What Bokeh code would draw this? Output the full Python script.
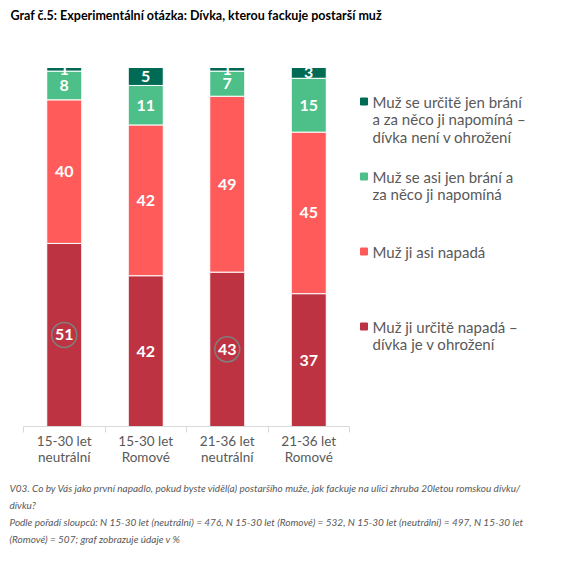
from bokeh.plotting import figure
from bokeh.models import Range1d, FixedTicker, Title, ColumnDataSource
from bokeh.core.properties import value
from bokeh.embed import file_html
from bokeh.resources import INLINE

# ---------------- data ----------------
categories = ["15-30 let\nneutrální", "15-30 let\nRomové", "21-36 let\nneutrální", "21-36 let\nRomové"]
urcite_napada = [51, 42, 43, 37]   # Muž ji určitě napadá – dívka je v ohrožení
asi_napada = [40, 42, 49, 45]      # Muž ji asi napadá
asi_brani = [8, 11, 7, 15]         # Muž se asi jen brání a za něco ji napomíná
urcite_brani = [1, 5, 1, 3]        # Muž se určitě jen brání ... – dívka není v ohrožení
circled = [True, False, True, False]

series_keys = ["urcite_napada", "asi_napada", "asi_brani", "urcite_brani"]
series_colors = ["#BE3341", "#FF5B5B", "#4DBF88", "#006B55"]
legend_labels = [
    "Muž se určitě jen brání\na za něco ji napomíná –\ndívka není v ohrožení",
    "Muž se asi jen brání a\nza něco ji napomíná",
    "Muž ji asi napadá",
    "Muž ji určitě napadá –\ndívka je v ohrožení",
]
legend_colors = ["#006B55", "#4DBF88", "#FF5B5B", "#BE3341"]

title_text = "Graf č.5: Experimentální otázka: Dívka, kterou fackuje postarší muž"
notes = [
    "V03. Co by Vás jako první napadlo, pokud byste viděl(a) postaršího muže, jak fackuje na ulici zhruba 20letou romskou dívku/\ndívku?",
    "Podle pořadí sloupců: N 15-30 let (neutrální) = 476, N 15-30 let (Romové) = 532, N 15-30 let (neutrální) = 497, N 15-30 let\n(Romové) = 507; graf zobrazuje údaje v %",
]

# ---------------- layout helpers (px -> data) ----------------
W, H = 567, 554
AXIS_L, FRAME_B = 23, 426
CAT_PX = 81.5
PX_PER_PCT = 3.59

def px_x(px):
    return (px - AXIS_L) / CAT_PX

def px_y(py):
    return (FRAME_B - py) / PX_PER_PCT

FONT = "Lato"

p = figure(width=W, height=H, output_backend="svg", toolbar_location=None,
           y_axis_type=None, min_border_left=0, min_border_right=0,
           min_border_top=0, min_border_bottom=H - FRAME_B,
           x_range=Range1d(px_x(0), px_x(W)), y_range=Range1d(0, px_y(0)))
p.outline_line_color = None
p.xgrid.visible = False
p.background_fill_color = "white"

xs = [i + 0.5 for i in range(len(categories))]
data = dict(x=xs, urcite_napada=urcite_napada, asi_napada=asi_napada,
            asi_brani=asi_brani, urcite_brani=urcite_brani)
src = ColumnDataSource(data)
p.vbar_stack(series_keys, x="x", width=35 / CAT_PX, source=src, color=series_colors,
             line_color="white", line_width=1)

# segment labels
lx, ly, lt = [], [], []
cx, cy = [], []
for i in range(len(categories)):
    base = 0
    for k in series_keys:
        v = data[k][i]
        lx.append(xs[i]); ly.append(base + v / 2); lt.append(str(v))
        if k == "urcite_napada" and circled[i]:
            cx.append(xs[i]); cy.append(base + v / 2)
        base += v

p.scatter(cx, cy, marker="circle", size=25, fill_color=None, line_color="#7F7F7F", line_width=1.5)
p.text(lx, ly, text=lt, text_color="white", text_font=value(FONT), text_font_style="bold",
       text_font_size="16px", text_align="center", text_baseline="middle")

# x axis
ax = p.xaxis[0]
ax.ticker = FixedTicker(ticks=xs, minor_ticks=list(range(len(categories) + 1)))
ax.major_label_overrides = {x: c for x, c in zip(xs, categories)}
ax.bounds = (0, len(categories))
ax.major_tick_line_color = None
ax.major_tick_in = 0
ax.major_tick_out = 0
ax.minor_tick_in = 0
ax.minor_tick_out = 6
ax.minor_tick_line_color = "#D9D9D9"
ax.axis_line_color = "#D9D9D9"
ax.major_label_text_font = FONT
ax.major_label_text_font_size = "13.5px"
ax.major_label_text_color = "#595959"
ax.major_label_text_line_height = 1.05
ax.major_label_standoff = 0

# legend (manual)
first_line_py = [101, 176, 251, 326]
line_step = 17.5
sqx, sqy = [], []
tx, ty, tt = [], [], []
for lab, py in zip(legend_labels, first_line_py):
    sqx.append(px_x(363.5)); sqy.append(px_y(py))
    for j, line in enumerate(lab.split("\n")):
        tx.append(px_x(372)); ty.append(px_y(py + j * line_step)); tt.append(line)
p.scatter(sqx, sqy, marker="square", size=7, color=legend_colors)
p.text(tx, ty, text=tt, text_color="#595959", text_font=value(FONT), text_font_size="15px",
       text_align="left", text_baseline="middle")

# chart title (inside the frame's top area)
p.text([px_x(10)], [px_y(15)], text=[title_text], text_color="black", text_font=value(FONT),
       text_font_style="bold", text_font_size="12.5px", text_align="left", text_baseline="middle")

# notes below the axis
for t, so in zip(notes, [24, -19]):
    p.add_layout(Title(text=t, align="left", offset=9, standoff=so, text_font=FONT,
                       text_font_style="italic", text_font_size="10px", text_color="#595959",
                       text_line_height=1.45), "below")

open("out.html", "w").write(file_html(p, INLINE))
